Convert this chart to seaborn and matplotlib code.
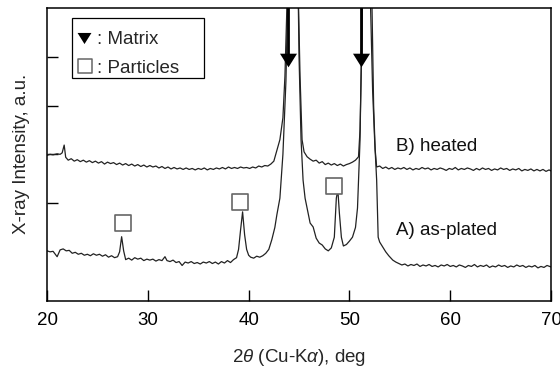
import numpy as np
import pandas as pd
import matplotlib
matplotlib.use("Agg")
import matplotlib.pyplot as plt
import seaborn as sns
from matplotlib.patches import Rectangle

# ---- data (arbitrary intensity units) ----
x_a = [20.0, 20.3, 20.6, 21.0, 21.3, 21.6, 21.9, 22.2, 22.5, 22.8, 23.1, 23.4, 23.7, 24.0,
       24.3, 24.6, 24.9, 25.2, 25.5, 25.8, 26.1, 26.4, 26.7, 27.0, 27.2, 27.4, 27.6, 27.8,
       28.1, 28.4, 28.7, 29.0, 29.3, 29.6, 29.9, 30.2, 30.5, 30.8, 31.1, 31.4, 31.7, 31.9,
       32.2, 32.5, 32.8, 33.1, 33.4, 33.7, 34.0, 34.3, 34.6, 34.9, 35.2, 35.5, 35.8, 36.1,
       36.4, 36.7, 37.0, 37.3, 37.6, 37.9, 38.2, 38.5, 38.8, 39.0, 39.2, 39.4, 39.6, 39.8,
       40.0, 40.2, 40.5, 40.8, 41.1, 41.4, 41.7, 42.0, 42.3, 42.6, 42.8, 43.1, 43.4, 43.7,
       43.9, 44.2, 44.5, 44.8, 45.0, 45.2, 45.4, 45.6, 45.8, 46.1, 46.4, 46.7, 47.0, 47.3,
       47.6, 47.9, 48.2, 48.5, 48.7, 48.85, 49.0, 49.2, 49.4, 49.7, 50.0, 50.3, 50.6, 50.8,
       51.05, 51.3, 51.6, 51.8, 52.1, 52.3, 52.5, 52.7, 52.85, 53.0, 53.3, 53.6, 53.9, 54.3,
       54.6, 54.9, 55.2, 55.5, 55.8, 56.1, 56.4, 56.7, 57.0, 57.3, 57.6, 57.9, 58.2, 58.5,
       58.8, 59.1, 59.4, 59.7, 60.0, 60.3, 60.6, 60.9, 61.2, 61.5, 61.8, 62.1, 62.4, 62.7,
       63.0, 63.3, 63.6, 63.9, 64.2, 64.5, 64.8, 65.1, 65.4, 65.7, 66.0, 66.3, 66.6, 66.9,
       67.2, 67.5, 67.8, 68.1, 68.4, 68.7, 69.0, 69.3, 69.6, 70.0]
y_a = [1.02, 1.00, 1.01, 0.90, 1.04, 1.06, 1.02, 1.03, 0.97, 0.99, 0.95, 0.97, 0.93, 0.95,
       0.92, 0.96, 0.93, 0.95, 0.91, 0.94, 0.89, 0.92, 0.88, 0.90, 1.00, 1.31, 1.02, 0.84,
       0.87, 0.83, 0.88, 0.85, 0.87, 0.82, 0.85, 0.83, 0.85, 0.81, 0.84, 0.82, 0.90, 0.82,
       0.80, 0.83, 0.78, 0.80, 0.72, 0.79, 0.77, 0.80, 0.76, 0.78, 0.75, 0.79, 0.77, 0.80,
       0.76, 0.79, 0.75, 0.80, 0.77, 0.82, 0.78, 0.84, 0.88, 1.05, 1.45, 1.82, 1.35, 1.05,
       0.93, 0.89, 0.87, 0.91, 0.89, 0.92, 0.97, 1.05, 1.25, 1.50, 1.76, 2.10, 3.00, 4.50,
       6.50, 9.00, 9.50, 8.00, 5.00, 3.30, 2.47, 2.10, 1.90, 1.59, 1.51, 1.28, 1.18, 1.14,
       1.06, 1.02, 1.08, 1.30, 2.10, 2.27, 1.80, 1.30, 1.12, 1.15, 1.22, 1.30, 1.50, 1.90,
       3.29, 6.50, 9.50, 8.50, 6.00, 4.30, 3.29, 2.47, 1.30, 1.20, 1.10, 1.00, 0.92, 0.83,
       0.79, 0.76, 0.73, 0.75, 0.71, 0.74, 0.72, 0.75, 0.70, 0.73, 0.71, 0.74, 0.70, 0.72,
       0.69, 0.73, 0.71, 0.74, 0.70, 0.72, 0.69, 0.73, 0.71, 0.68, 0.72, 0.70, 0.74, 0.69,
       0.72, 0.70, 0.73, 0.68, 0.71, 0.69, 0.73, 0.70, 0.72, 0.68, 0.71, 0.69, 0.73, 0.70,
       0.72, 0.68, 0.71, 0.69, 0.72, 0.67, 0.70, 0.68, 0.72, 0.69]

x_b = [20.0, 20.3, 20.6, 21.0, 21.3, 21.5, 21.7, 21.85, 22.1, 22.4, 22.7, 23.0, 23.3, 23.6,
       23.9, 24.2, 24.5, 24.8, 25.1, 25.4, 25.7, 26.0, 26.3, 26.6, 26.9, 27.2, 27.5, 27.8,
       28.1, 28.4, 28.7, 29.0, 29.3, 29.6, 29.9, 30.2, 30.5, 30.8, 31.1, 31.4, 31.7, 32.0,
       32.3, 32.6, 32.9, 33.2, 33.5, 33.8, 34.1, 34.4, 34.7, 35.0, 35.3, 35.6, 35.9, 36.2,
       36.5, 36.8, 37.1, 37.4, 37.7, 38.0, 38.3, 38.6, 38.9, 39.2, 39.5, 39.8, 40.1, 40.4,
       40.7, 41.0, 41.3, 41.6, 41.9, 42.2, 42.5, 42.8, 43.1, 43.4, 43.6, 43.8, 44.0, 44.3,
       44.6, 44.9, 45.1, 45.3, 45.5, 45.8, 46.1, 46.4, 46.7, 47.0, 47.3, 47.6, 47.9, 48.2,
       48.5, 48.8, 49.1, 49.4, 49.7, 50.0, 50.3, 50.6, 50.9, 51.05, 51.2, 51.4, 51.7, 52.0,
       52.2, 52.4, 52.55, 52.7, 53.0, 53.3, 53.6, 53.9, 54.2, 54.5, 54.8, 55.1, 55.4, 55.7,
       56.0, 56.3, 56.6, 56.9, 57.2, 57.5, 57.8, 58.1, 58.4, 58.7, 59.0, 59.3, 59.6, 59.9,
       60.2, 60.5, 60.8, 61.1, 61.4, 61.7, 62.0, 62.3, 62.6, 62.9, 63.2, 63.5, 63.8, 64.1,
       64.4, 64.7, 65.0, 65.3, 65.6, 65.9, 66.2, 66.5, 66.8, 67.1, 67.4, 67.7, 68.0, 68.3,
       68.6, 68.9, 69.2, 69.5, 69.8, 70.0]
y_b = [2.98, 3.00, 2.99, 3.01, 3.00, 3.03, 3.19, 2.94, 2.88, 2.91, 2.86, 2.89, 2.85, 2.88,
       2.84, 2.87, 2.83, 2.86, 2.82, 2.85, 2.80, 2.84, 2.81, 2.83, 2.79, 2.82, 2.78, 2.81,
       2.77, 2.80, 2.76, 2.79, 2.75, 2.78, 2.74, 2.77, 2.74, 2.76, 2.72, 2.75, 2.71, 2.74,
       2.70, 2.73, 2.70, 2.72, 2.69, 2.72, 2.69, 2.71, 2.68, 2.71, 2.69, 2.72, 2.68, 2.71,
       2.69, 2.72, 2.70, 2.73, 2.70, 2.74, 2.71, 2.73, 2.71, 2.74, 2.72, 2.73, 2.71, 2.74,
       2.72, 2.76, 2.74, 2.77, 2.76, 2.80, 2.86, 3.08, 3.30, 3.75, 4.60, 6.00, 8.00, 10.0,
       9.50, 6.50, 4.60, 3.30, 3.05, 2.95, 2.90, 2.86, 2.88, 2.82, 2.85, 2.79, 2.82, 2.78,
       2.81, 2.77, 2.80, 2.76, 2.79, 2.81, 2.84, 2.88, 2.95, 3.50, 5.00, 8.00, 10.0, 9.00,
       6.50, 4.00, 3.10, 2.74, 2.76, 2.71, 2.74, 2.70, 2.73, 2.69, 2.72, 2.70, 2.73, 2.69,
       2.72, 2.68, 2.71, 2.69, 2.73, 2.70, 2.72, 2.68, 2.71, 2.69, 2.72, 2.70, 2.67, 2.71,
       2.69, 2.73, 2.68, 2.71, 2.69, 2.72, 2.70, 2.67, 2.71, 2.68, 2.72, 2.69, 2.71, 2.67,
       2.70, 2.68, 2.72, 2.69, 2.71, 2.67, 2.70, 2.68, 2.71, 2.66, 2.69, 2.67, 2.70, 2.66,
       2.69, 2.66, 2.69, 2.65, 2.68, 2.66]

matrix_x = [43.88, 51.15]
matrix_y = [4.93, 4.93]
particle_x = [27.5, 39.15, 48.5]
particle_y = [1.59, 2.03, 2.36]

x_ticks = [20, 30, 40, 50, 60, 70]
y_ticks = [2, 3, 4, 5]
legend_labels = [": Matrix", ": Particles"]
curve_labels = ["B) heated", "A) as-plated"]

# ---- style ----
sns.set_theme(style="ticks")
plt.rcParams["font.family"] = ["Liberation Sans", "DejaVu Sans"]
plt.rcParams["mathtext.fontset"] = "custom"
plt.rcParams["mathtext.it"] = "Liberation Sans:italic"
plt.rcParams["mathtext.rm"] = "Liberation Sans"

FS = 13.5
tri = [(-1.0, 0.8), (1.0, 0.8), (0.0, -0.8), (-1.0, 0.8)]

df = pd.concat([
    pd.DataFrame({"x": x_a, "y": y_a, "s": "A"}),
    pd.DataFrame({"x": x_b, "y": y_b, "s": "B"}),
])

fig = plt.figure(figsize=(5.6, 3.67), dpi=100)
ax = fig.add_axes([0.084, 0.181, 0.900, 0.797])

sns.lineplot(data=df, x="x", y="y", hue="s", palette={"A": "#222222", "B": "#222222"},
             estimator=None, sort=False, linewidth=0.9, legend=False, ax=ax)

# matrix arrows
for mx, my in zip(matrix_x, matrix_y):
    ax.plot([mx, mx], [my, 6.2], color="black", lw=2.0, solid_capstyle="butt", zorder=4)
ax.scatter(matrix_x, matrix_y, marker=tri, s=150, color="black", linewidth=0, zorder=5)
# particles
ax.scatter(particle_x, particle_y, marker="s", s=130, facecolor="white",
           edgecolor="#666666", linewidth=1.2, zorder=5)

ax.text(54.62, 3.07, curve_labels[0], fontsize=FS, va="baseline", ha="left", color="#111111")
ax.text(54.62, 1.35, curve_labels[1], fontsize=FS, va="baseline", ha="left", color="#111111")

# legend box (drawn by hand to match the reference layout)
ax.add_patch(Rectangle((0.0496, 0.761), 0.262, 0.205, transform=ax.transAxes,
                       facecolor="white", edgecolor="black", linewidth=0.9, zorder=6))
ax.scatter([23.67], [5.38], marker=tri, s=100, color="black", linewidth=0, zorder=7)
ax.scatter([23.77], [4.82], marker="s", s=105, facecolor="white", edgecolor="#666666",
           linewidth=1.1, zorder=7)
ax.text(24.96, 5.26, legend_labels[0], fontsize=FS, va="baseline", ha="left", zorder=7)
ax.text(24.96, 4.67, legend_labels[1], fontsize=FS, va="baseline", ha="left", zorder=7)

ax.set_xlim(20, 70)
ax.set_ylim(0, 6)
ax.set_xticks(x_ticks)
ax.set_xticklabels([str(t) for t in x_ticks])
ax.set_yticks(y_ticks)
ax.set_yticklabels([])
ax.tick_params(axis="both", direction="in", length=8, width=1.0, colors="black",
               labelsize=FS)
ax.tick_params(axis="x", pad=8)
ax.tick_params(axis="y", pad=7)
for sp in ax.spines.values():
    sp.set_linewidth(1.1)
    sp.set_color("black")

ax.set_xlabel(r"2$\mathit{\theta}$ (Cu-K$\mathit{\alpha}$), deg", fontsize=FS, labelpad=13)
ax.set_ylabel("X-ray Intensity, a.u.", fontsize=FS, labelpad=5.5)

fig.savefig("out.png", dpi=100)
